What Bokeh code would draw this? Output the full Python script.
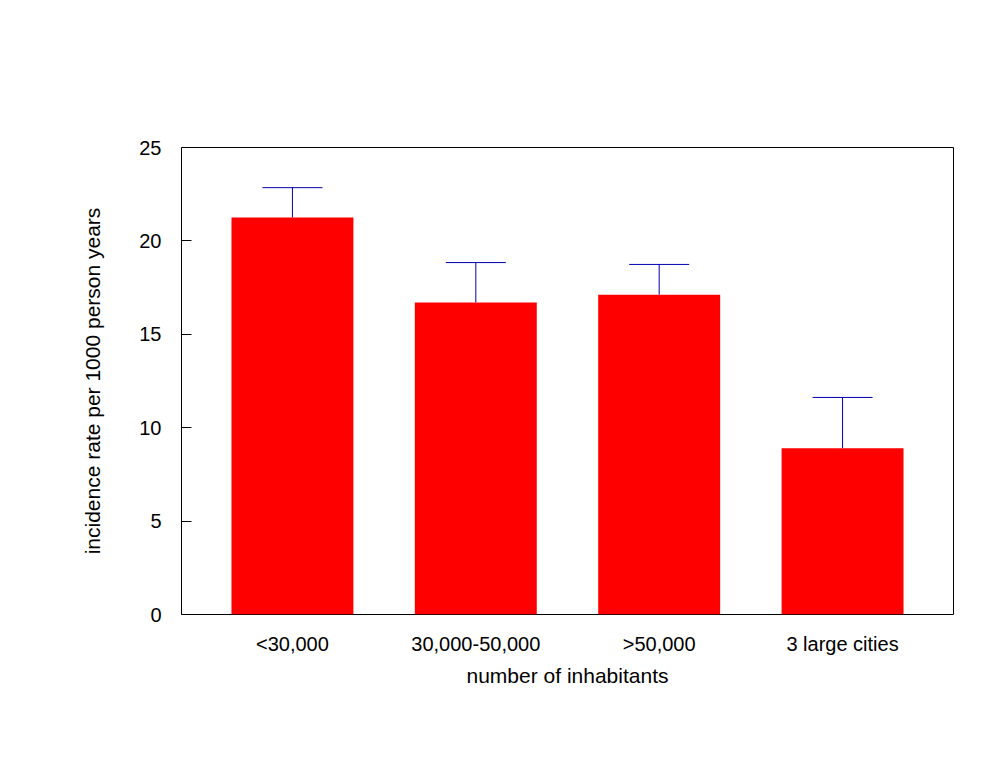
from bokeh.plotting import figure
from bokeh.models import ColumnDataSource, FactorRange, Range1d, FixedTicker, Whisker, TeeHead
from bokeh.embed import file_html
from bokeh.resources import INLINE

categories = ["<30,000", "30,000-50,000", ">50,000", "3 large cities"]
rates = [21.25, 16.7, 17.12, 8.9]
upper_ci = [22.85, 18.84, 18.74, 11.62]
y_ticks = [0, 5, 10, 15, 20, 25]

src = ColumnDataSource(data=dict(cat=categories, rate=rates, upper=upper_ci))

p = figure(width=981, height=752, output_backend="svg", toolbar_location=None,
           x_range=FactorRange(factors=categories, range_padding=0.0525, range_padding_units="percent"),
           y_range=Range1d(0, 25),
           min_border_left=181, min_border_right=28, min_border_top=147, min_border_bottom=138)

p.vbar(x="cat", top="rate", width=0.665, source=src, fill_color="#FF0000", line_color=None)

w = Whisker(base="cat", upper="upper", lower="rate", source=src,
            line_color="#0000B4", line_width=1,
            upper_head=TeeHead(size=60, line_color="#0000B4", line_width=1),
            lower_head=None)
p.add_layout(w)

p.grid.visible = False
p.outline_line_color = "black"
p.outline_line_width = 1
p.outline_line_alpha = 1
p.background_fill_color = "white"
p.border_fill_color = "white"

p.yaxis.ticker = FixedTicker(ticks=y_ticks)
p.yaxis.major_tick_in = 10
p.yaxis.major_tick_out = 0
p.yaxis.minor_tick_line_color = None
p.yaxis.axis_line_color = None
p.yaxis.major_tick_line_color = "black"
p.yaxis.major_label_standoff = 20
p.yaxis.major_label_text_color = "black"
p.yaxis.major_label_text_font = "Liberation Sans"
p.yaxis.major_label_text_font_size = "20px"
p.yaxis.axis_label = "incidence rate per 1000 person years"
p.yaxis.axis_label_text_color = "black"
p.yaxis.axis_label_text_font = "Liberation Sans"
p.yaxis.axis_label_text_font_size = "21px"
p.yaxis.axis_label_text_font_style = "normal"
p.yaxis.axis_label_standoff = 32

p.xaxis.major_tick_in = 0
p.xaxis.major_tick_out = 0
p.xaxis.axis_line_color = None
p.xaxis.major_label_standoff = 18
p.xaxis.major_label_text_color = "black"
p.xaxis.major_label_text_font = "Liberation Sans"
p.xaxis.major_label_text_font_size = "20px"
p.xaxis.axis_label = "number of inhabitants"
p.xaxis.axis_label_text_color = "black"
p.xaxis.axis_label_text_font = "Liberation Sans"
p.xaxis.axis_label_text_font_size = "21px"
p.xaxis.axis_label_text_font_style = "normal"
p.xaxis.axis_label_standoff = 6

open("out.html", "w").write(file_html(p, INLINE))
